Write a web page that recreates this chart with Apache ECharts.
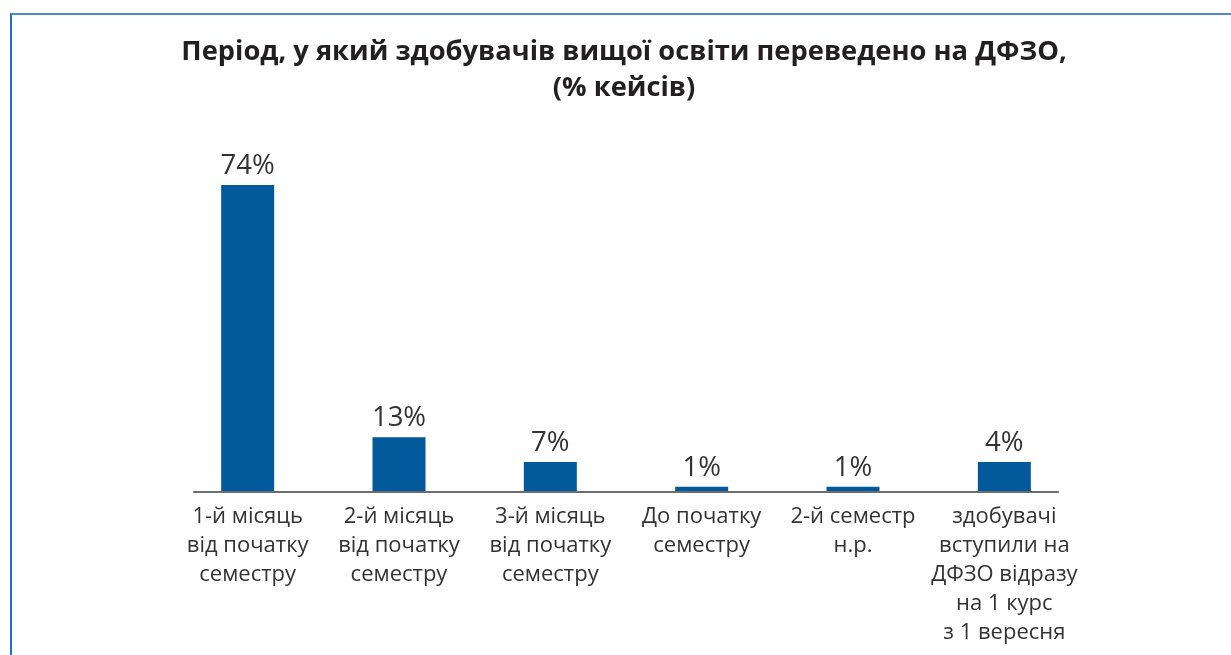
<!DOCTYPE html>
<html>
<head>
<meta charset="utf-8">
<script src="https://cdn.jsdelivr.net/npm/echarts@6/dist/echarts.min.js"></script>
<style>
  html, body { margin: 0; padding: 0; background: #fff; }
  #wrap { position: relative; width: 1231px; height: 655px; overflow: hidden; }
  #chart { position: absolute; left: 0; top: 0; width: 1231px; height: 655px; }
  #frame {
    position: absolute; left: 10px; top: 13px; width: 1300px; height: 700px;
    border-top: 2px solid #4a8bc2; border-left: 2px solid #1b6fca;
    pointer-events: none;
  }
</style>
</head>
<body>
<div id="wrap">
  <div id="chart"></div>
  <div id="frame"></div>
</div>
<script>
// категорії (підписи осі)
var categories = [
  '1-й місяць\nвід початку\nсеместру',
  '2-й місяць\nвід початку\nсеместру',
  '3-й місяць\nвід початку\nсеместру',
  'До початку\nсеместру',
  '2-й семестр\nн.р.',
  'здобувачі\nвступили на\nДФЗО відразу\nна 1 курс\nз 1 вересня'
];
// висота стовпців, як на рисунку
var barValues = [74, 13, 7, 1, 1, 7];
// підписи над стовпцями
var valueLabels = ['74%', '13%', '7%', '1%', '1%', '4%'];

var titleText = 'Період, у який здобувачів вищої освіти переведено на ДФЗО,\n(% кейсів)';

var myChart = echarts.init(document.getElementById('chart'));
var option = {
    backgroundColor: 'transparent',
    animation: false,
    title: {
        text: titleText,
        left: 619,
        textAlign: 'center',
        top: 29,
        textStyle: {
            fontFamily: 'Open Sans',
            fontWeight: 'bold',
            fontSize: 27.3,
            lineHeight: 36,
            color: '#231f20'
        }
    },
    grid: [
        { left: 172, right: 151, top: 185, bottom: 164 },
        { left: 194, right: 173, top: 185, bottom: 163 }
    ],
    xAxis: [
        {
            type: 'category',
            gridIndex: 0,
            data: categories,
            axisLine: { show: false },
            axisTick: { show: false },
            axisLabel: {
                interval: 0,
                margin: 11,
                fontFamily: 'Open Sans',
                fontSize: 22,
                lineHeight: 29,
                color: '#333'
            }
        },
        {
            type: 'value',
            gridIndex: 1,
            min: 0,
            max: 1,
            axisLine: { show: true, lineStyle: { color: '#6d6d6d', width: 2 } },
            axisTick: { show: false },
            axisLabel: { show: false },
            splitLine: { show: false }
        }
    ],
    yAxis: [
        { type: 'value', gridIndex: 0, min: 0, max: 74, show: false, splitLine: { show: false } },
        { type: 'value', gridIndex: 1, min: 0, max: 1, show: false, splitLine: { show: false } }
    ],
    series: [
        {
            type: 'bar',
            xAxisIndex: 0,
            yAxisIndex: 0,
            data: barValues,
            barWidth: 53,
            itemStyle: { color: '#02599c' },
            label: {
                show: true,
                position: 'top',
                distance: 5,
                fontFamily: 'Open Sans',
                fontSize: 27.5,
                color: '#333',
                formatter: function (p) { return valueLabels[p.dataIndex]; }
            }
        }
    ]
};
// використовуємо опції для побудови графіка
myChart.setOption(option);
</script>
</body>
</html>
